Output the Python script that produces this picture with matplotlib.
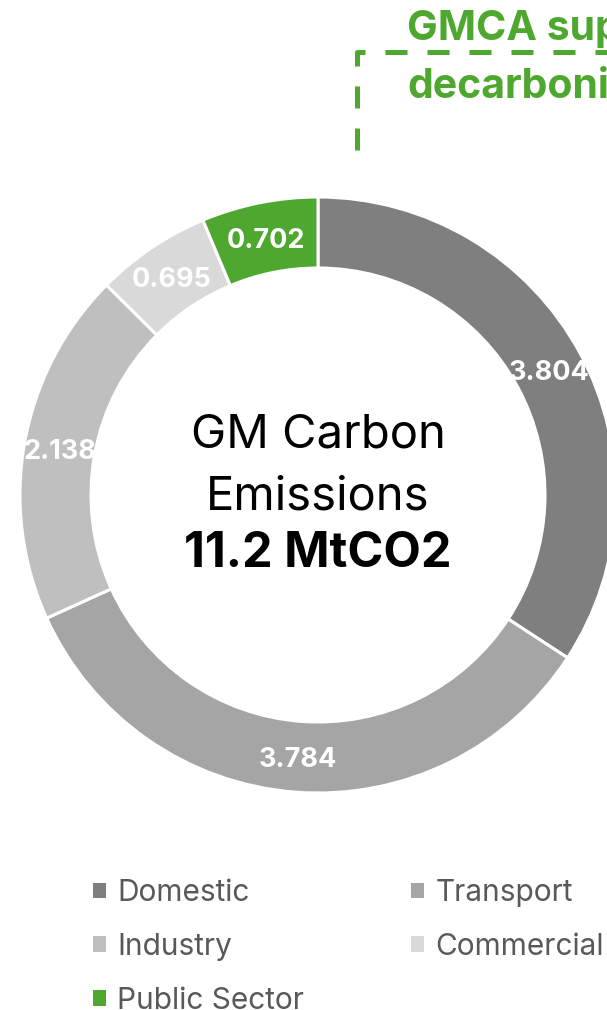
import matplotlib
matplotlib.use("Agg")
import numpy as np
import matplotlib.pyplot as plt

# ---------------------------------------------------------
# Data
# ---------------------------------------------------------
sectors = ["Domestic", "Transport", "Industry", "Commercial", "Public Sector"]
emissions = [3.804, 3.784, 2.138, 0.695, 0.702]
value_labels = ["3.804", "3.784", "2.138", "0.695", "0.702"]
colors = ["#7f7f7f", "#a5a5a5", "#bfbfbf", "#d9d9d9", "#4ea72e"]

centre_lines = ["GM Carbon", "Emissions", "11.2 MtCO2"]
callout_lines = ["GMCA support for public sector", "decarbonisation"]

green = "#4ea72e"
plt.rcParams["font.family"] = ["Inter", "DejaVu Sans"]

# ---------------------------------------------------------
# Figure in pixel coordinates (y up)
# ---------------------------------------------------------
W, H = 607, 1010
fig = plt.figure(figsize=(W / 100, H / 100), dpi=100)
ax = fig.add_axes([0, 0, 1, 1])

cx, cy = 318, H - 495
r_out, ring = 298, 71

wedges, _ = ax.pie(
    emissions,
    colors=colors,
    startangle=90,
    counterclock=False,
    radius=r_out,
    center=(cx, cy),
    wedgeprops=dict(width=ring, edgecolor="white", linewidth=2.2),
)

ax.set_xlim(0, W)
ax.set_ylim(0, H)
ax.set_aspect("equal")
ax.axis("off")

# value labels in the middle of each ring segment
r_mid = r_out - ring / 2
for w, txt in zip(wedges, value_labels):
    ang = np.deg2rad((w.theta1 + w.theta2) / 2)
    ax.text(cx + r_mid * np.cos(ang), cy + r_mid * np.sin(ang) - 3, txt,
            ha="center", va="center", color="white",
            fontsize=19.5, fontweight="bold")

# centre text
ax.text(cx, H - 447, centre_lines[0], ha="center", va="baseline",
        fontsize=34, color="black")
ax.text(cx, H - 510, centre_lines[1], ha="center", va="baseline",
        fontsize=34, color="black")
ax.text(cx, H - 567, centre_lines[2], ha="center", va="baseline",
        fontsize=35, fontweight="bold", color="black")

# ---------------------------------------------------------
# Callout at the top (dashed bracket + green text)
# ---------------------------------------------------------
ax.plot([357, 357, 660], [H - 150, H - 52, H - 52], color=green,
        linewidth=3.6, linestyle=(0, (4.4, 4.0)), solid_capstyle="butt",
        dash_capstyle="butt", clip_on=False)
ax.text(407, H - 40, callout_lines[0], ha="left", va="baseline",
        fontsize=29.5, fontweight="bold", color=green)
ax.text(407, H - 98, callout_lines[1], ha="left", va="baseline",
        fontsize=29.5, fontweight="bold", color=green)

# ---------------------------------------------------------
# Legend (row-wise order in 2 columns)
# ---------------------------------------------------------
order = [0, 2, 4, 1, 3]
leg = ax.legend([wedges[i] for i in order], [sectors[i] for i in order],
                ncol=2, loc="upper left",
                bbox_to_anchor=(93 / W, 1 - 879 / H),
                bbox_transform=fig.transFigure,
                frameon=False, fontsize=21.5, borderpad=0,
                handlelength=0.43, handleheight=0.43, handletextpad=0.37,
                labelspacing=0.87, columnspacing=3.6, borderaxespad=0)
for t in leg.get_texts():
    t.set_color("#595959")
for h in leg.legend_handles:
    h.set_edgecolor("none")

fig.savefig("out.png", dpi=100)
